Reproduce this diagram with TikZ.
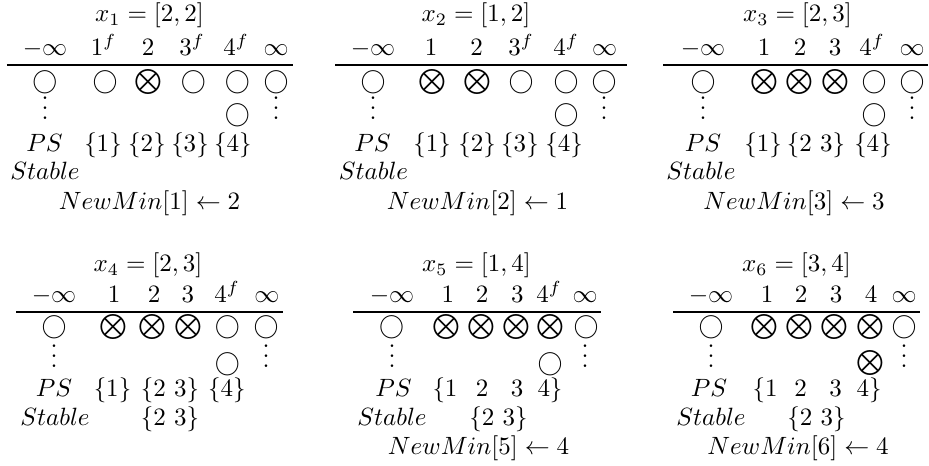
\documentclass[tikz,border=0pt]{standalone}
\begin{document}
\begin{tikzpicture}[x=0.4pt,y=-0.4pt,
  lbl/.style={anchor=base,inner sep=0pt,outer sep=0pt},
  cc/.style={inner sep=0pt,outer sep=0pt},
  rule/.style={line width=0.8pt}]
\useasboundingbox (0,0) rectangle (929,466);
% ================= Panel 1 =================
\node[lbl] (p1t) at (149.5,22) {$x_1=[2,2]$};
\node[lbl] (p1h0) at (45,56) {$-\infty$};
\node[lbl] (p1h1) at (103.5,56) {$1^f$};
\node[lbl] (p1h2) at (148,56) {$2$};
\node[lbl] (p1h3) at (192,56) {$3^f$};
\node[lbl] (p1h4) at (236,56) {$4^f$};
\node[lbl] (p1h5) at (276,56) {$\infty$};
\coordinate (p1a) at (7,65); \coordinate (p1b) at (293,65);
\draw[rule] (p1a) -- (p1b);
\node[cc] (p1c0) at (45,82) {$\bigcirc$};
\node[cc] (p1c1) at (105,82) {$\bigcirc$};
\node[cc] (p1c2) at (148.5,82) {$\bigotimes$};
\node[cc] (p1c3) at (193.5,82) {$\bigcirc$};
\node[cc] (p1c4) at (237.5,82) {$\bigcirc$};
\node[cc] (p1c5) at (276,82) {$\bigcirc$};
\node[lbl] (p1d0) at (45,120) {$\vdots$};
\node[lbl] (p1d5) at (276,120) {$\vdots$};
\node[cc] (p1e) at (237.5,115) {$\bigcirc$};
\node[lbl] (p1ps) at (44.5,152) {$PS$};
\node[lbl] (p1s1) at (103,152) {$\{1\}$};
\node[lbl] (p1s2) at (147,152) {$\{2\}$};
\node[lbl] (p1s3) at (190,152) {$\{3\}$};
\node[lbl] (p1s4) at (233,152) {$\{4\}$};
\node[lbl] (p1st) at (45,180) {$Stable$};
\node[lbl] (p1nm) at (149.5,210) {$NewMin[1]\leftarrow 2$};
% ================= Panel 2 =================
\node[lbl] (p2t) at (476,22) {$x_2=[1,2]$};
\node[lbl] (p2h0) at (373,56) {$-\infty$};
\node[lbl] (p2h1) at (431,56) {$1$};
\node[lbl] (p2h2) at (476.5,56) {$2$};
\node[lbl] (p2h3) at (521,56) {$3^f$};
\node[lbl] (p2h4) at (566,56) {$4^f$};
\node[lbl] (p2h5) at (604.5,56) {$\infty$};
\coordinate (p2a) at (335,65); \coordinate (p2b) at (627,65);
\draw[rule] (p2a) -- (p2b);
\node[cc] (p2c0) at (373,82) {$\bigcirc$};
\node[cc] (p2c1) at (432,82) {$\bigotimes$};
\node[cc] (p2c2) at (477,82) {$\bigotimes$};
\node[cc] (p2c3) at (521,82) {$\bigcirc$};
\node[cc] (p2c4) at (566,82) {$\bigcirc$};
\node[cc] (p2c5) at (604,82) {$\bigcirc$};
\node[lbl] (p2d0) at (373,120) {$\vdots$};
\node[lbl] (p2d5) at (604,120) {$\vdots$};
\node[cc] (p2e) at (566,115) {$\bigcirc$};
\node[lbl] (p2ps) at (372.5,152) {$PS$};
\node[lbl] (p2s1) at (432,152) {$\{1\}$};
\node[lbl] (p2s2) at (477,152) {$\{2\}$};
\node[lbl] (p2s3) at (520,152) {$\{3\}$};
\node[lbl] (p2s4) at (564,152) {$\{4\}$};
\node[lbl] (p2st) at (373.5,180) {$Stable$};
\node[lbl] (p2nm) at (477.5,210) {$NewMin[2]\leftarrow 1$};
% ================= Panel 3 =================
\node[lbl] (p3t) at (797.5,22) {$x_3=[2,3]$};
\node[lbl] (p3h0) at (703,56) {$-\infty$};
\node[lbl] (p3h1) at (764,56) {$1$};
\node[lbl] (p3h2) at (800,56) {$2$};
\node[lbl] (p3h3) at (835,56) {$3$};
\node[lbl] (p3h4) at (872,56) {$4^f$};
\node[lbl] (p3h5) at (912,56) {$\infty$};
\coordinate (p3a) at (663,65); \coordinate (p3b) at (928,65);
\draw[rule] (p3a) -- (p3b);
\node[cc] (p3c0) at (703,82) {$\bigcirc$};
\node[cc] (p3c1) at (764,82) {$\bigotimes$};
\node[cc] (p3c2) at (799,82) {$\bigotimes$};
\node[cc] (p3c3) at (835,82) {$\bigotimes$};
\node[cc] (p3c4) at (874,82) {$\bigcirc$};
\node[cc] (p3c5) at (912,82) {$\bigcirc$};
\node[lbl] (p3d0) at (703,120) {$\vdots$};
\node[lbl] (p3d5) at (912,120) {$\vdots$};
\node[cc] (p3e) at (874,115) {$\bigcirc$};
\node[lbl] (p3ps) at (703,152) {$PS$};
\node[lbl] (p3s1) at (763,152) {$\{1\}$};
\node[lbl] (p3s2) at (816,152) {$\{2\ 3\}$};
\node[lbl] (p3s4) at (873,152) {$\{4\}$};
\node[lbl] (p3st) at (701,180) {$Stable$};
\node[lbl] (p3nm) at (794,210) {$NewMin[3]\leftarrow 3$};
% ================= Panel 4 =================
\node[lbl] (p4t) at (148,272) {$x_4=[2,3]$};
\node[lbl] (p4h0) at (54,303) {$-\infty$};
\node[lbl] (p4h1) at (114,303) {$1$};
\node[lbl] (p4h2) at (154,303) {$2$};
\node[lbl] (p4h3) at (188,303) {$3$};
\node[lbl] (p4h4) at (227,303) {$4^f$};
\node[lbl] (p4h5) at (267,303) {$\infty$};
\coordinate (p4a) at (16,312); \coordinate (p4b) at (283,312);
\draw[rule] (p4a) -- (p4b);
\node[cc] (p4c0) at (54,327) {$\bigcirc$};
\node[cc] (p4c1) at (113,327) {$\bigotimes$};
\node[cc] (p4c2) at (152,327) {$\bigotimes$};
\node[cc] (p4c3) at (188,327) {$\bigotimes$};
\node[cc] (p4c4) at (227.5,327) {$\bigcirc$};
\node[cc] (p4c5) at (266,327) {$\bigcirc$};
\node[lbl] (p4d0) at (54,368) {$\vdots$};
\node[lbl] (p4d5) at (266,368) {$\vdots$};
\node[cc] (p4e) at (227.5,364) {$\bigcirc$};
\node[lbl] (p4ps) at (54,397) {$PS$};
\node[lbl] (p4s1) at (112.5,397) {$\{1\}$};
\node[lbl] (p4s2) at (170,397) {$\{2\ 3\}$};
\node[lbl] (p4s4) at (227,397) {$\{4\}$};
\node[lbl] (p4st) at (55,426) {$Stable$};
\node[lbl] (p4sv) at (170,426) {$\{2\ 3\}$};
% ================= Panel 5 =================
\node[lbl] (p5t) at (476.5,272) {$x_5=[1,4]$};
\node[lbl] (p5h0) at (392,303) {$-\infty$};
\node[lbl] (p5h1) at (448,303) {$1$};
\node[lbl] (p5h2) at (482,303) {$2$};
\node[lbl] (p5h3) at (517.5,303) {$3$};
\node[lbl] (p5h4) at (549,303) {$4^f$};
\node[lbl] (p5h5) at (585,303) {$\infty$};
\coordinate (p5a) at (353,312); \coordinate (p5b) at (601,312);
\draw[rule] (p5a) -- (p5b);
\node[cc] (p5c0) at (391.5,327) {$\bigcirc$};
\node[cc] (p5c1) at (446.5,327) {$\bigotimes$};
\node[cc] (p5c2) at (481.5,327) {$\bigotimes$};
\node[cc] (p5c3) at (516.5,327) {$\bigotimes$};
\node[cc] (p5c4) at (550,327) {$\bigotimes$};
\node[cc] (p5c5) at (586,327) {$\bigcirc$};
\node[lbl] (p5d0) at (392,368) {$\vdots$};
\node[lbl] (p5d5) at (585,368) {$\vdots$};
\node[cc] (p5e) at (550,364) {$\bigcirc$};
\node[lbl] (p5ps) at (393.5,397) {$PS$};
\node[lbl] (p5s1) at (445,397) {$\{1$};
\node[lbl] (p5s2) at (482,397) {$2$};
\node[lbl] (p5s3) at (517,397) {$3$};
\node[lbl] (p5s4) at (550,397) {$4\}$};
\node[lbl] (p5st) at (392,426) {$Stable$};
\node[lbl] (p5sv) at (498.5,426) {$\{2\ 3\}$};
\node[lbl] (p5nm) at (478.5,455) {$NewMin[5]\leftarrow 4$};
% ================= Panel 6 =================
\node[lbl] (p6t) at (796.5,272) {$x_6=[3,4]$};
\node[lbl] (p6h0) at (711,303) {$-\infty$};
\node[lbl] (p6h1) at (767,303) {$1$};
\node[lbl] (p6h2) at (801,303) {$2$};
\node[lbl] (p6h3) at (836,303) {$3$};
\node[lbl] (p6h4) at (871,303) {$4$};
\node[lbl] (p6h5) at (904,303) {$\infty$};
\coordinate (p6a) at (673,312); \coordinate (p6b) at (920,312);
\draw[rule] (p6a) -- (p6b);
\node[cc] (p6c0) at (711,327) {$\bigcirc$};
\node[cc] (p6c1) at (764,327) {$\bigotimes$};
\node[cc] (p6c2) at (799,327) {$\bigotimes$};
\node[cc] (p6c3) at (834.5,327) {$\bigotimes$};
\node[cc] (p6c4) at (870,327) {$\bigotimes$};
\node[cc] (p6c5) at (904,327) {$\bigcirc$};
\node[lbl] (p6d0) at (711,368) {$\vdots$};
\node[lbl] (p6d5) at (904,368) {$\vdots$};
\node[cc] (p6e) at (870,363) {$\bigotimes$};
\node[lbl] (p6ps) at (709,397) {$PS$};
\node[lbl] (p6s1) at (765,397) {$\{1$};
\node[lbl] (p6s2) at (800.5,397) {$2$};
\node[lbl] (p6s3) at (835.5,397) {$3$};
\node[lbl] (p6s4) at (869,397) {$4\}$};
\node[lbl] (p6st) at (711,426) {$Stable$};
\node[lbl] (p6sv) at (816.5,426) {$\{2\ 3\}$};
\node[lbl] (p6nm) at (798,455) {$NewMin[6]\leftarrow 4$};
\end{tikzpicture}
\end{document}
